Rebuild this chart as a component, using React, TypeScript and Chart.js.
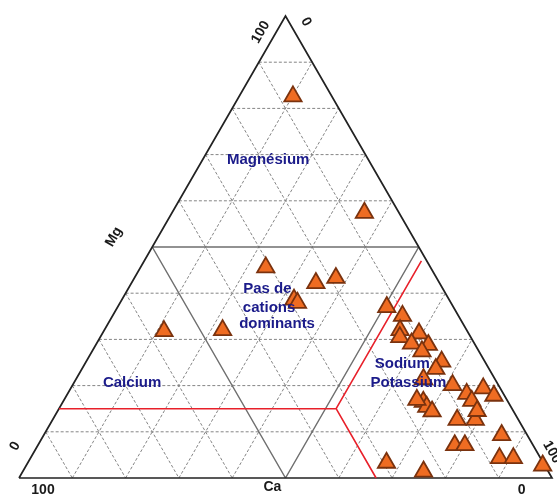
import React, { useEffect, useRef } from 'react';
import { Chart, registerables } from 'chart.js';

Chart.register(...registerables);

const SQRT3_2 = Math.sqrt(3) / 2;

// Cation composition of each sample, in % (Ca + Mg + Na+K = 100)
const sampleCa = [
  7.3, 6.5, 30.9, 23.2, 18.9, 29.1, 28.8, 45.8, 56.9, 12.5,
  10.5, 12.5, 13.3, 9.3, 11.8, 8.8, 10.7, 8.1, 10.0, 13.4,
  8.6, 3.2, 2.0, 6.9, 6.7, 15.9, 15.8, 15.3, 16.9, 11.5,
  8.1, 6.8, 4.8, 14.7, 12.8, 7.7, 5.1, 0.4, 23.4, 29.4,
];
const sampleMg = [
  82.6, 57.4, 45.6, 42.2, 43.3, 38.6, 37.9, 32.0, 31.8, 37.0,
  35.1, 32.0, 30.5, 31.3, 29.1, 28.8, 27.4, 25.2, 23.6, 21.4,
  20.1, 19.4, 17.8, 18.2, 16.7, 16.5, 15.4, 14.4, 16.9, 12.6,
  12.6, 14.5, 9.3, 7.1, 7.1, 4.3, 4.3, 2.7, 1.4, 3.3,
];
const sampleNaK = [
  10.1, 36.1, 23.5, 34.6, 37.8, 32.3, 33.3, 22.2, 11.3, 50.5,
  54.4, 55.5, 56.2, 59.4, 59.1, 62.4, 61.9, 66.7, 66.4, 65.2,
  71.3, 77.4, 80.2, 74.9, 76.6, 67.6, 68.8, 70.3, 66.2, 75.9,
  79.3, 78.7, 85.9, 78.2, 80.1, 88.0, 90.6, 96.9, 75.2, 67.3,
];

// Grid levels (%) for the three components
const gridLevels = [10, 20, 30, 40, 60, 70, 80, 90];
const halfLevel = 50;

// Red facies boundary: [Ca, Mg, Na+K]
const boundaryJunction = [33, 15, 52];
const boundaryEnds = [
  [85, 15, 0],
  [1, 47, 52],
  [33, 0, 67],
];

// Facies names
const regionNames = ['Magnésium', 'Pas de', 'cations', 'dominants', 'Calcium', 'Sodium', 'Potassium'];
// Anchors for the facies names as [Mg, Na+K, alignment]
const regionAnchors: [number, number, CanvasTextAlign][] = [
  [68.9, 12.3, 'center'],
  [40.9, 21.6, 'left'],
  [36.8, 23.6, 'left'],
  [33.4, 24.6, 'left'],
  [20.7, 5.4, 'left'],
  [24.7, 54.4, 'left'],
  [20.7, 55.6, 'left'],
];

// Axis captions and end values
const axisTexts = ['100', 'Ca', '0', '0', 'Mg', '100', '0', '100'];
// Anchors as [Mg, Na+K, rotation in degrees]
const axisAnchors: [number, number, number][] = [
  [-2.6, 5.8, 0],
  [-1.9, 48.5, 0],
  [-2.6, 95.6, 0],
  [6.9, -4.2, -60],
  [52.2, -8.3, -60],
  [96.5, -2.9, -60],
  [98.7, 4.5, 60],
  [5.6, 97.2, 60],
];

type Pt = { x: number; y: number | null };

// Ternary (Ca, Mg, Na+K) -> cartesian, Ca at left, Na+K at right, Mg at top
function tern(ca: number, mg: number, na: number): Pt {
  const s = ca + mg + na || 100;
  const m = (mg / s) * 100;
  const n = (na / s) * 100;
  return { x: n + m / 2, y: m * SQRT3_2 };
}
function fromMgNa(mg: number, na: number) {
  return { x: na + mg / 2, y: mg * SQRT3_2 };
}

const GAP: Pt = { x: 0, y: null };

function gridSegments(levels: number[]): Pt[] {
  const pts: Pt[] = [];
  levels.forEach((v) => {
    // constant Mg
    pts.push(tern(100 - v, v, 0), tern(0, v, 100 - v), GAP);
    // constant Ca
    pts.push(tern(v, 100 - v, 0), tern(v, 0, 100 - v), GAP);
    // constant Na+K
    pts.push(tern(100 - v, 0, v), tern(0, 100 - v, v), GAP);
  });
  return pts;
}

const FONT = '"Liberation Sans", Arial, sans-serif';

const labelPlugin = {
  id: 'ternaryLabels',
  afterDatasetsDraw(chart: any) {
    const { ctx, scales } = chart;
    const xs = scales.x;
    const ys = scales.y;
    const px = (p: { x: number; y: number }) => [xs.getPixelForValue(p.x), ys.getPixelForValue(p.y)];

    ctx.save();
    ctx.textBaseline = 'middle';
    ctx.font = `bold 15px ${FONT}`;
    ctx.fillStyle = '#1b1b8a';
    regionNames.forEach((t, i) => {
      const [mg, na, align] = regionAnchors[i];
      const [x, y] = px(fromMgNa(mg, na));
      ctx.textAlign = align;
      ctx.fillText(t, x, y);
    });

    ctx.font = `bold 14px ${FONT}`;
    ctx.fillStyle = '#1a1a1a';
    ctx.textAlign = 'center';
    axisTexts.forEach((t, i) => {
      const [mg, na, rot] = axisAnchors[i];
      const [x, y] = px(fromMgNa(mg, na));
      ctx.save();
      ctx.translate(x, y);
      ctx.rotate((rot * Math.PI) / 180);
      ctx.fillText(t, 0, 0);
      ctx.restore();
    });
    ctx.restore();
  },
};

export default function App() {
  const canvasRef = useRef<HTMLCanvasElement | null>(null);

  useEffect(() => {
    const canvas = canvasRef.current;
    if (!canvas) return;

    const samples = sampleCa.map((ca, i) => tern(ca, sampleMg[i], sampleNaK[i]));

    const outline = [tern(100, 0, 0), tern(0, 100, 0), tern(0, 0, 100), tern(100, 0, 0)];

    const boundary: Pt[] = [];
    boundaryEnds.forEach((e) => {
      boundary.push(
        tern(boundaryJunction[0], boundaryJunction[1], boundaryJunction[2]),
        tern(e[0], e[1], e[2]),
        GAP,
      );
    });

    const lineBase = {
      showLine: true,
      pointRadius: 0,
      pointHoverRadius: 0,
      spanGaps: false,
      fill: false,
      clip: false as const,
    };

    const chart = new Chart(canvas, {
      type: 'scatter',
      data: {
        datasets: [
          {
            ...lineBase,
            label: 'grille',
            data: gridSegments(gridLevels) as any,
            borderColor: '#858585',
            borderWidth: 1,
            borderDash: [3, 2],
            order: 5,
          },
          {
            ...lineBase,
            label: '50 %',
            data: gridSegments([halfLevel]) as any,
            borderColor: '#6f6f6f',
            borderWidth: 1.5,
            order: 4,
          },
          {
            ...lineBase,
            label: 'cadre',
            data: outline as any,
            borderColor: '#222222',
            borderWidth: 1.7,
            order: 3,
          },
          {
            ...lineBase,
            label: 'limites',
            data: boundary as any,
            borderColor: '#e8202a',
            borderWidth: 1.6,
            order: 2,
          },
          {
            label: 'Échantillons',
            data: samples as any,
            showLine: false,
            pointStyle: 'triangle',
            pointRadius: 10,
            pointHoverRadius: 10,
            pointBackgroundColor: '#ef6c22',
            pointBorderColor: '#7a320e',
            pointBorderWidth: 1.8,
            clip: false as const,
            order: 1,
          },
        ],
      },
      options: {
        animation: false,
        responsive: false,
        devicePixelRatio: 1,
        layout: { autoPadding: false, padding: { left: 19, right: 5, top: 16, bottom: 17 } },
        plugins: {
          legend: { display: false },
          tooltip: { enabled: false },
          title: { display: false },
        },
        events: [],
        scales: {
          x: { type: 'linear', min: 0, max: 100, display: false },
          y: { type: 'linear', min: 0, max: 100 * SQRT3_2, display: false },
        },
      },
      plugins: [labelPlugin],
    });

    return () => chart.destroy();
  }, []);

  return (
    <div style={{ position: 'absolute', left: 0, top: 0, width: 557, height: 495, background: '#ffffff' }}>
      <canvas ref={canvasRef} width={557} height={495} style={{ display: 'block' }} />
    </div>
  );
}
